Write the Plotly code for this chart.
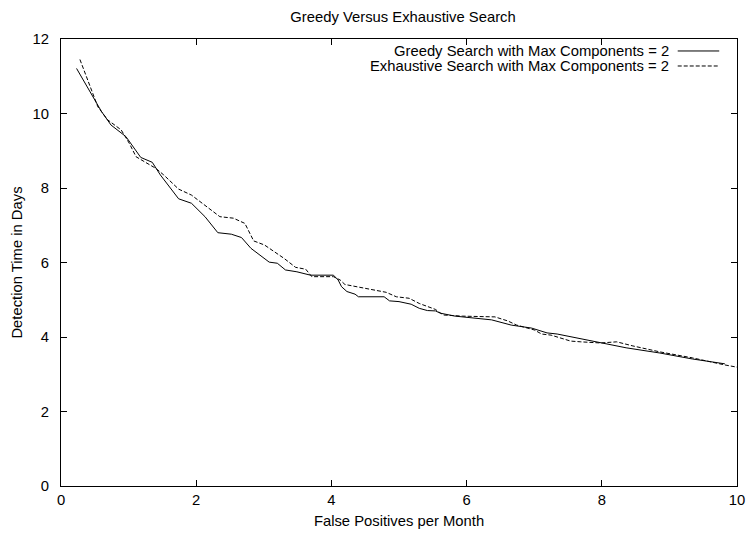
import plotly.graph_objects as go

# Greedy search, max components = 2
greedy_fp = [0.23, 0.60, 0.74, 0.96, 1.18, 1.35, 1.47, 1.74, 1.93, 2.13, 2.32, 2.52,
             2.67, 2.81, 3.08, 3.20, 3.32, 3.49, 3.69, 4.03, 4.10, 4.15, 4.23, 4.35,
             4.40, 4.78, 4.86, 5.00, 5.18, 5.30, 5.42, 5.54, 5.61, 5.83, 6.37, 6.66,
             6.96, 7.19, 7.34, 7.69, 7.98, 8.36, 8.86, 9.34, 9.82]
greedy_days = [11.21, 10.05, 9.69, 9.38, 8.82, 8.69, 8.35, 7.71, 7.59, 7.23, 6.80, 6.76,
               6.67, 6.38, 6.01, 5.98, 5.80, 5.75, 5.66, 5.66, 5.53, 5.35, 5.22, 5.15,
               5.08, 5.08, 4.97, 4.95, 4.88, 4.77, 4.71, 4.70, 4.64, 4.56, 4.46, 4.32,
               4.24, 4.11, 4.08, 3.95, 3.84, 3.71, 3.57, 3.41, 3.28]

# Exhaustive search, max components = 2
exhaustive_fp = [0.28, 0.545, 0.69, 0.89, 1.01, 1.11, 1.23, 1.40, 1.52, 1.74, 1.93, 2.13,
                 2.35, 2.55, 2.72, 2.85, 3.01, 3.30, 3.47, 3.62, 3.71, 4.03, 4.13, 4.20,
                 4.42, 4.61, 4.81, 4.96, 5.15, 5.30, 5.45, 5.54, 5.59, 5.66, 5.94, 6.42,
                 6.61, 6.74, 7.00, 7.11, 7.25, 7.54, 7.69, 7.98, 8.22, 8.46, 8.86, 9.34,
                 9.82, 10.0]
exhaustive_days = [11.45, 10.18, 9.83, 9.56, 9.20, 8.84, 8.71, 8.53, 8.35, 7.97, 7.81, 7.54,
                   7.23, 7.19, 7.05, 6.58, 6.47, 6.11, 5.87, 5.82, 5.62, 5.62, 5.53, 5.41,
                   5.33, 5.26, 5.20, 5.08, 5.04, 4.90, 4.81, 4.74, 4.67, 4.59, 4.56, 4.54,
                   4.43, 4.32, 4.19, 4.08, 4.05, 3.89, 3.87, 3.84, 3.87, 3.76, 3.60, 3.44,
                   3.25, 3.19]

series_names = ["Greedy Search with Max Components = 2",
                "Exhaustive Search with Max Components = 2"]
x_ticks = [0, 2, 4, 6, 8, 10]
y_ticks = [0, 2, 4, 6, 8, 10, 12]

FONT = "Liberation Sans, Arial, Helvetica, sans-serif"
FS = 14.8
DASH = "4px,2px"

fig = go.Figure()
fig.add_trace(go.Scatter(x=greedy_fp, y=greedy_days, mode="lines",
                         line=dict(color="black", width=1), name=series_names[0],
                         showlegend=False))
fig.add_trace(go.Scatter(x=exhaustive_fp, y=exhaustive_days, mode="lines",
                         line=dict(color="black", width=1, dash=DASH), name=series_names[1],
                         showlegend=False))

# gnuplot-style key: right-aligned labels with the line sample to their right
key_rows = [(0.9732, None), (0.9396, DASH)]
for name, (ky, dash) in zip(series_names, key_rows):
    fig.add_annotation(x=0.9020, y=ky, xref="paper", yref="paper", text=name,
                       showarrow=False, xanchor="right", yanchor="middle",
                       font=dict(family=FONT, size=FS, color="black"))
    fig.add_shape(type="line", xref="paper", yref="paper", x0=0.9123, x1=0.9737,
                  y0=ky, y1=ky, line=dict(color="black", width=1, dash=dash or "solid"))

axis_common = dict(showline=True, linecolor="black", linewidth=1, mirror="ticks",
                   ticks="inside", ticklen=6, tickcolor="black", showgrid=False,
                   zeroline=False, tickfont=dict(family=FONT, size=FS, color="black"))

fig.update_layout(
    width=755, height=536,
    margin=dict(l=61, r=10, t=39, b=50),
    paper_bgcolor="white", plot_bgcolor="white",
    title=dict(text="Greedy Versus Exhaustive Search", x=0.5338, xanchor="center",
               y=1 - 17 / 536, yref="container", yanchor="middle",
               font=dict(family=FONT, size=FS, color="black")),
    xaxis=dict(range=[0, 10], tickvals=x_ticks,
               title=dict(text="False Positives per Month", standoff=8,
                          font=dict(family=FONT, size=FS, color="black")),
               **axis_common),
    yaxis=dict(range=[0, 12], tickvals=y_ticks, ticklabelstandoff=8,
               title=dict(text="Detection Time in Days", standoff=6,
                          font=dict(family=FONT, size=FS, color="black")),
               **axis_common),
)

fig.write_html("out.html")
